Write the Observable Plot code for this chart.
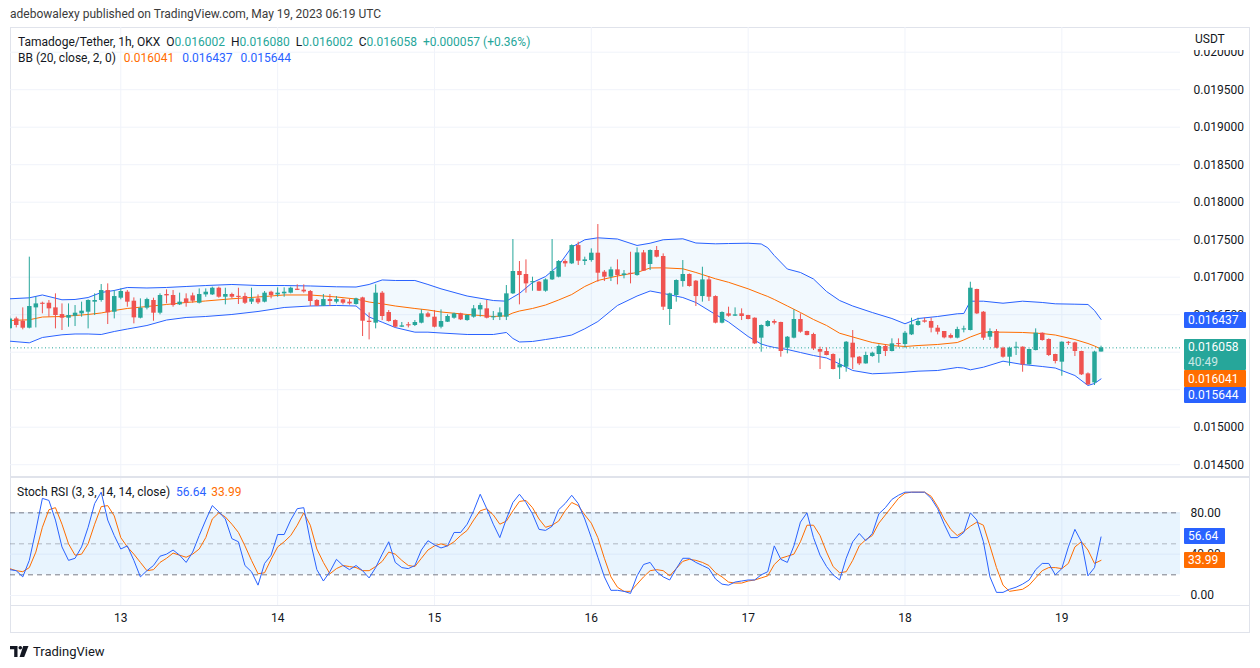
<!DOCTYPE html>
<html>
<head>
<meta charset="utf-8">
<script src="https://cdn.jsdelivr.net/npm/d3@7"></script>
<script src="https://cdn.jsdelivr.net/npm/@observablehq/plot@0.6"></script>
<style>
  html, body { margin: 0; padding: 0; background: #ffffff; }
  body { width: 1260px; height: 668px; overflow: hidden; position: relative;
         font-family: Roboto, "Liberation Sans", sans-serif; color: #131722; }
  .abs { position: absolute; }
  .frame { left: 10px; top: 27px; width: 1238px; height: 604px; border: 1px solid #e0e3eb; }
  .sep { background: #e0e3eb; }
  .legend { display: flex; white-space: pre; font-size: 12px; line-height: 16px; }
  .box { color: #fff; font-size: 12px; line-height: 16px; padding-left: 4px; box-sizing: border-box; border-radius: 1px; }
</style>
</head>
<body>
<div id="header" class="abs" style="left:10px;top:7px;font-size:12px;color:#3b3b3b;white-space:pre"></div>
<div class="abs frame"></div>
<div id="main" class="abs" style="left:10px;top:27px"></div>
<div id="rsi" class="abs" style="left:10px;top:477px"></div>
<div class="abs sep" style="left:10px;top:476px;width:1240px;height:2px"></div>
<div class="abs sep" style="left:10px;top:605px;width:1240px;height:1px"></div>
<div id="usdt" class="abs" style="left:1181px;top:29px;width:68px;height:21px;background:#fff;font-size:12px;line-height:21px;padding-left:14px;box-sizing:border-box">USDT</div>
<div id="leg1" class="abs legend" style="left:18px;top:34px"></div>
<div id="leg2" class="abs legend" style="left:18px;top:50px"></div>
<div id="leg3" class="abs legend" style="left:17px;top:484px"></div>
<div id="boxes"></div>
<div class="abs" style="left:10px;top:644px;display:flex;align-items:center">
  <svg width="19" height="12" viewBox="0 0 19 12"><path d="M0 0H7.5V11H4.2V3.3H0Z" fill="#131722"/><circle cx="10.3" cy="1.8" r="1.8" fill="#131722"/><path d="M13.2 0H18.5L14.2 11H9.6Z" fill="#131722"/></svg>
  <span style="margin-left:4px;font-size:13px;color:#131722">TradingView</span>
</div>
<script>
// ---------- data ----------
const headerText = "adebowalexy published on TradingView.com, May 19, 2023 06:19 UTC";
const firstCandleUTC = Date.UTC(2023, 4, 12, 7); // 1h candles from May 12 07:00 UTC
const candleOpen = [0.016311,0.016444,0.016413,0.016320,0.016591,0.016653,0.016653,0.016591,0.016502,0.016453,
0.016480,0.016511,0.016533,0.016667,0.016689,0.016822,0.016533,0.016720,0.016800,0.016680,
0.016453,0.016587,0.016689,0.016520,0.016769,0.016756,0.016631,0.016711,0.016751,0.016653,
0.016764,0.016764,0.016853,0.016733,0.016769,0.016745,0.016742,0.016667,0.016711,0.016667,
0.016800,0.016764,0.016778,0.016787,0.016840,0.016827,0.016809,0.016689,0.016613,0.016702,
0.016667,0.016698,0.016667,0.016636,0.016724,0.016413,0.016387,0.016787,0.016529,0.016422,
0.016333,0.016366,0.016356,0.016387,0.016511,0.016467,0.016333,0.016400,0.016453,0.016511,
0.016422,0.016467,0.016564,0.016578,0.016458,0.016467,0.016467,0.016778,0.017076,0.017036,
0.016926,0.016933,0.016813,0.016964,0.017000,0.017209,0.017178,0.017422,0.017209,0.017222,
0.017320,0.017067,0.017000,0.017098,0.017022,0.017052,0.017022,0.017324,0.017169,0.017356,
0.017276,0.016569,0.016756,0.016942,0.017036,0.016947,0.016742,0.016964,0.016742,0.016387,
0.016511,0.016480,0.016511,0.016489,0.016453,0.016187,0.016342,0.016409,0.016396,0.016053,
0.016187,0.016436,0.016276,0.016236,0.016036,0.016009,0.015969,0.015791,0.015800,0.016120,
0.015933,0.015844,0.015942,0.015969,0.016076,0.016009,0.016116,0.016102,0.016231,0.016356,
0.016418,0.016409,0.016320,0.016276,0.016222,0.016187,0.016296,0.016289,0.016836,0.016533,
0.016200,0.016276,0.016053,0.015933,0.016053,0.016067,0.015831,0.016022,0.016253,0.016169,
0.015969,0.015867,0.016131,0.016124,0.016009,0.015711,0.015591,0.016002];
const candleHigh = [0.016467,0.016467,0.016591,0.017267,0.016733,0.016667,0.016689,0.016778,0.016644,0.016644,
0.016622,0.016667,0.016698,0.016778,0.016902,0.016911,0.016822,0.016844,0.016822,0.016724,
0.016711,0.016720,0.016720,0.016778,0.016831,0.016822,0.016787,0.016778,0.016787,0.016844,
0.016844,0.016867,0.016867,0.016853,0.016787,0.016853,0.016787,0.016853,0.016764,0.016809,
0.016813,0.016858,0.016858,0.016867,0.016898,0.016898,0.016822,0.016702,0.016769,0.016769,
0.016742,0.016707,0.016702,0.016720,0.016733,0.016524,0.016898,0.016809,0.016556,0.016431,
0.016396,0.016396,0.016422,0.016564,0.016533,0.016556,0.016564,0.016498,0.016520,0.016520,
0.016498,0.016622,0.016653,0.016689,0.016542,0.016591,0.016889,0.017502,0.017209,0.017231,
0.017000,0.016942,0.016978,0.017502,0.017222,0.017231,0.017431,0.017467,0.017267,0.017378,
0.017702,0.017089,0.017133,0.017231,0.017089,0.017333,0.017391,0.017356,0.017364,0.017409,
0.017311,0.016787,0.016964,0.017222,0.017044,0.016956,0.017133,0.017009,0.016751,0.016538,
0.016600,0.016591,0.016578,0.016493,0.016458,0.016364,0.016422,0.016431,0.016400,0.016209,
0.016564,0.016511,0.016280,0.016253,0.016067,0.016058,0.015978,0.015911,0.016142,0.016289,
0.015942,0.016000,0.016000,0.016098,0.016098,0.016178,0.016178,0.016276,0.016453,0.016453,
0.016453,0.016453,0.016356,0.016276,0.016244,0.016333,0.016347,0.016933,0.016840,0.016542,
0.016311,0.016302,0.016067,0.016067,0.016133,0.016071,0.016040,0.016311,0.016258,0.016178,
0.015973,0.016138,0.016142,0.016133,0.016013,0.015724,0.016013,0.016080];
const candleLow = [0.016302,0.016324,0.016298,0.016311,0.016324,0.016511,0.016467,0.016311,0.016289,0.016333,
0.016342,0.016467,0.016311,0.016489,0.016667,0.016369,0.016444,0.016698,0.016600,0.016378,
0.016444,0.016564,0.016413,0.016498,0.016644,0.016600,0.016622,0.016600,0.016653,0.016644,
0.016733,0.016756,0.016720,0.016631,0.016711,0.016636,0.016636,0.016636,0.016636,0.016658,
0.016711,0.016733,0.016733,0.016778,0.016822,0.016787,0.016609,0.016609,0.016609,0.016609,
0.016644,0.016631,0.016627,0.016627,0.016209,0.016164,0.016311,0.016422,0.016400,0.016324,
0.016329,0.016324,0.016342,0.016378,0.016458,0.016324,0.016311,0.016396,0.016440,0.016422,
0.016413,0.016453,0.016467,0.016444,0.016422,0.016422,0.016422,0.016769,0.016631,0.016787,
0.016813,0.016809,0.016800,0.016956,0.016991,0.017133,0.017169,0.017156,0.017156,0.017200,
0.016933,0.016942,0.016942,0.016898,0.016978,0.016911,0.017013,0.017076,0.017089,0.017258,
0.016556,0.016356,0.016667,0.016867,0.016867,0.016609,0.016667,0.016676,0.016378,0.016378,
0.016467,0.016476,0.016422,0.016431,0.016102,0.016000,0.016333,0.016364,0.015933,0.015978,
0.016178,0.016253,0.016218,0.016022,0.015769,0.015951,0.015764,0.015636,0.015733,0.015769,
0.015822,0.015840,0.015933,0.015853,0.015942,0.016004,0.016067,0.016053,0.016222,0.016347,
0.016387,0.016258,0.016231,0.016178,0.016178,0.016178,0.016258,0.016284,0.016502,0.016156,
0.016156,0.016044,0.015920,0.015813,0.015956,0.015733,0.015827,0.016018,0.016147,0.015942,
0.015844,0.015680,0.016089,0.015942,0.015689,0.015556,0.015556,0.016002];
const candleClose = [0.016444,0.016356,0.016320,0.016609,0.016644,0.016638,0.016578,0.016489,0.016453,0.016489,
0.016520,0.016547,0.016689,0.016689,0.016822,0.016524,0.016742,0.016809,0.016667,0.016458,
0.016587,0.016702,0.016520,0.016756,0.016751,0.016622,0.016667,0.016653,0.016680,0.016769,
0.016800,0.016853,0.016733,0.016769,0.016733,0.016730,0.016653,0.016711,0.016658,0.016787,
0.016756,0.016787,0.016800,0.016853,0.016824,0.016804,0.016676,0.016613,0.016702,0.016676,
0.016702,0.016653,0.016644,0.016711,0.016413,0.016396,0.016787,0.016476,0.016409,0.016333,
0.016351,0.016351,0.016396,0.016511,0.016467,0.016333,0.016409,0.016476,0.016511,0.016431,
0.016489,0.016578,0.016622,0.016453,0.016473,0.016524,0.016778,0.017076,0.017022,0.016911,
0.016941,0.016813,0.016964,0.017076,0.017209,0.017178,0.017422,0.017213,0.017231,0.017320,
0.017053,0.017000,0.017098,0.017022,0.017044,0.017037,0.017324,0.017080,0.017356,0.017267,
0.016600,0.016778,0.016956,0.017036,0.016876,0.016742,0.016964,0.016733,0.016387,0.016529,
0.016480,0.016498,0.016476,0.016436,0.016111,0.016356,0.016409,0.016387,0.016009,0.016200,
0.016436,0.016267,0.016222,0.016044,0.016000,0.015956,0.015769,0.015831,0.016133,0.015924,
0.015844,0.015956,0.015987,0.016076,0.016009,0.016111,0.016102,0.016253,0.016364,0.016409,
0.016400,0.016320,0.016267,0.016191,0.016187,0.016302,0.016311,0.016853,0.016511,0.016187,
0.016276,0.016053,0.015933,0.016053,0.016067,0.015831,0.016036,0.016253,0.016156,0.015956,
0.015876,0.016133,0.016118,0.016009,0.015698,0.015564,0.016002,0.016058];

// Bollinger Bands (20, close, 2) read at these candle offsets (hours after first candle)
const bbHour = [0,3,5,8,10,12,14,16,18,21,24,27,30,34,38,42,46,50,53,55,57,59,62,64,66,70,74,76,77,78,
80,82,84,86,88,90,93,96,98,100,103,105,108,110,113,115,116,117,119,121,123,125,127,129,132,135,137,139,142,145,
146,147,149,152,155,158,160,163,165,166,167];
const bbUpper = [0.016712,0.016725,0.016763,0.016699,0.016703,0.016729,0.016796,0.016823,0.016863,0.016856,
0.016863,0.016876,0.016889,0.016903,0.016889,0.016889,0.016883,0.016872,0.016869,0.016903,
0.016963,0.016956,0.016956,0.016903,0.016845,0.016749,0.016689,0.016680,0.016733,0.016783,
0.016929,0.017009,0.017156,0.017400,0.017499,0.017525,0.017509,0.017423,0.017453,0.017499,
0.017512,0.017456,0.017445,0.017449,0.017453,0.017443,0.017392,0.017289,0.017109,0.017063,
0.016976,0.016809,0.016689,0.016616,0.016529,0.016449,0.016379,0.016449,0.016476,0.016512,
0.016516,0.016680,0.016680,0.016653,0.016680,0.016663,0.016645,0.016640,0.016636,0.016556,0.016437];
const bbMiddle = [0.016423,0.016432,0.016469,0.016476,0.016489,0.016503,0.016523,0.016556,0.016583,0.016609,
0.016636,0.016663,0.016683,0.016712,0.016736,0.016763,0.016763,0.016736,0.016709,0.016669,
0.016645,0.016616,0.016583,0.016563,0.016536,0.016503,0.016476,0.016485,0.016523,0.016549,
0.016583,0.016629,0.016696,0.016769,0.016876,0.016956,0.017016,0.017063,0.017123,0.017125,
0.017112,0.017063,0.016979,0.016932,0.016845,0.016776,0.016743,0.016703,0.016616,0.016529,
0.016436,0.016356,0.016253,0.016203,0.016129,0.016089,0.016076,0.016089,0.016103,0.016129,
0.016163,0.016203,0.016267,0.016267,0.016263,0.016249,0.016229,0.016169,0.016116,0.016083,0.016041];
const bbLower = [0.016147,0.016125,0.016196,0.016232,0.016243,0.016243,0.016236,0.016276,0.016309,0.016356,
0.016429,0.016463,0.016476,0.016503,0.016543,0.016596,0.016616,0.016623,0.016616,0.016469,
0.016400,0.016329,0.016267,0.016267,0.016256,0.016236,0.016236,0.016263,0.016183,0.016136,
0.016143,0.016169,0.016196,0.016229,0.016312,0.016409,0.016623,0.016749,0.016816,0.016783,
0.016729,0.016663,0.016503,0.016403,0.016209,0.016109,0.016083,0.016063,0.016036,0.015996,
0.015956,0.015923,0.015843,0.015756,0.015712,0.015723,0.015733,0.015747,0.015756,0.015796,
0.015789,0.015765,0.015800,0.015880,0.015836,0.015809,0.015789,0.015689,0.015556,0.015583,0.015644];

// Stoch RSI (3, 3, 14, 14, close), one value per candle
const stochK = [25,24,18,34,63,94,92,73,47,34, 36,47,66,89,100,73,58,45,48,34,
18,24,29,38,40,44,39,32,42,58, 73,87,81,74,55,52,29,23,10,31,
39,59,59,73,84,85,53,25,14,23, 35,29,25,29,24,17,27,40,52,32,
27,26,29,44,53,49,46,48,61,61, 69,82,98,84,69,56,74,90,98,90,
79,64,63,67,83,89,97,89,74,56, 37,18,5,5,4,2,19,30,32,23,
18,15,26,36,36,32,29,26,16,11, 10,13,14,15,15,20,23,48,35,32,
48,71,80,56,39,28,20,15,36,52, 60,53,60,79,85,93,97,100,100,100,
100,94,84,69,56,56,61,80,73,52, 18,3,3,6,8,11,15,25,31,31,
20,26,47,64,52,19,27,56.64];
const stochD = [26,24,23,27,42,66,83,85,69,50, 39,40,50,69,86,87,77,56,47,40,
32,24,25,32,36,41,39,37,40,45, 56,74,80,76,69,61,48,34,21,22,
35,47,52,58,68,80,68,45,32,21, 26,29,28,27,24,24,28,33,42,40,
34,29,28,36,44,48,50,48,52,58, 63,73,82,84,78,69,72,82,91,92,
85,74,66,68,72,82,90,87,78,70, 56,36,18,8,4,4,11,18,24,25,
24,19,26,33,35,34,32,29,22,18, 13,12,12,14,15,17,19,30,36,38,
40,52,68,68,58,42,28,22,23,34, 48,54,58,70,78,86,94,99,100,100,
100,96,86,74,64,58,62,67,71,68, 48,27,10,4,5,6,10,17,24,27,
27,26,31,47,52,44,31,33.99];

const priceTicks = [0.0145,0.015,0.0155,0.016,0.0165,0.017,0.0175,0.018,0.0185,0.019,0.0195,0.02];
const priceLabelsHidden = [0.0155, 0.016]; // fully covered by the value tags in the reference
const rsiGridTicks = [0, 40, 80];
const rsiBandLevels = [20, 80];
const rsiMidLevel = [50];
const dayTicks = [13, 14, 15, 16, 17, 18, 19];

const legendMain = [["Tamadoge/Tether, 1h, OKX", "#131722", 0], ["O", "#131722", 6], ["0.016002", "#26a69a", 0],
  ["H", "#131722", 6], ["0.016080", "#26a69a", 0], ["L", "#131722", 6], ["0.016002", "#26a69a", 0],
  ["C", "#131722", 6], ["0.016058", "#26a69a", 0], ["+0.000057 (+0.36%)", "#26a69a", 6]];
const legendBB = [["BB (20, close, 2, 0)", "#131722", 0], ["0.016041", "#ff6d00", 8], ["0.016437", "#2962ff", 8], ["0.015644", "#2962ff", 8]];
const legendRSI = [["Stoch RSI (3, 3, 14, 14, close)", "#131722", 0], ["56.64", "#2962ff", 6], ["33.99", "#ff6d00", 5]];

// ---------- build ----------
const HOUR = 3600e3;
const tOf = i => new Date(firstCandleUTC + i * HOUR);
const candles = candleOpen.map((o, i) => ({t: tOf(i), o, h: candleHigh[i], l: candleLow[i], c: candleClose[i]}));
const up = candles.filter(d => d.c >= d.o), down = candles.filter(d => d.c < d.o);
const bb = bbHour.map((h, j) => ({t: tOf(h), upper: bbUpper[j], mid: bbMiddle[j], lower: bbLower[j]}));
const stoch = stochK.map((k, i) => ({t: tOf(i), k, d: stochD[i]}));
const dayDates = dayTicks.map(d => new Date(Date.UTC(2023, 4, d)));
const xDomain = [tOf(0.122), tOf(179.16)];
const GREEN = "#26a69a", RED = "#ef5350", BLUE = "#2962ff", ORANGE = "#ff6d00", GRID = "#f0f3fa";
const FONT = "Roboto, 'Liberation Sans', sans-serif";
const last = candles.length - 1;

document.getElementById("header").textContent = headerText;
function fillLegend(id, items) {
  const el = document.getElementById(id);
  for (const [txt, col, gap] of items) {
    const s = document.createElement("span");
    s.textContent = txt; s.style.color = col; s.style.marginLeft = gap + "px";
    el.appendChild(s);
  }
}
fillLegend("leg1", legendMain); fillLegend("leg2", legendBB); fillLegend("leg3", legendRSI);

const mainPlot = Plot.plot({
  width: 1240, height: 449,
  marginTop: 0, marginBottom: 0, marginLeft: 0, marginRight: 70,
  style: {fontFamily: FONT, fontSize: "12px", color: "#131722", background: "transparent", overflow: "visible"},
  x: {type: "utc", domain: xDomain, axis: null},
  y: {domain: [0.0143426, 0.0203293]},
  marks: [
    Plot.gridY(priceTicks, {stroke: GRID, strokeOpacity: 1}),
    Plot.gridX(dayDates, {stroke: GRID, strokeOpacity: 1}),
    Plot.areaY(bb, {x: "t", y1: "lower", y2: "upper", fill: "#2196f3", fillOpacity: 0.06, clip: true}),
    Plot.line(bb, {x: "t", y: "upper", stroke: BLUE, strokeWidth: 1, clip: true}),
    Plot.line(bb, {x: "t", y: "lower", stroke: BLUE, strokeWidth: 1, clip: true}),
    Plot.line(bb, {x: "t", y: "mid", stroke: ORANGE, strokeWidth: 1, clip: true}),
    Plot.ruleY([candleClose[last]], {stroke: GREEN, strokeWidth: 1, strokeDasharray: "1,2.5"}),
    Plot.ruleX(up, {x: "t", y1: "l", y2: "h", stroke: GREEN, strokeWidth: 1, clip: true}),
    Plot.ruleX(down, {x: "t", y1: "l", y2: "h", stroke: RED, strokeWidth: 1, clip: true}),
    Plot.ruleX(up, {x: "t", y1: "o", y2: "c", stroke: GREEN, strokeWidth: 4.5, clip: true}),
    Plot.ruleX(down, {x: "t", y1: "o", y2: "c", stroke: RED, strokeWidth: 4.5, clip: true}),
    Plot.axisY(priceTicks.filter(v => !priceLabelsHidden.includes(v)),
      {anchor: "right", tickSize: 0, tickPadding: 13, tickFormat: d => d.toFixed(6), label: null, fill: "#131722"})
  ]
});
document.getElementById("main").appendChild(mainPlot);

const rsiPlot = Plot.plot({
  width: 1240, height: 155,
  marginTop: 0, marginBottom: 27, marginLeft: 0, marginRight: 70,
  style: {fontFamily: FONT, fontSize: "12px", color: "#131722", background: "transparent", overflow: "visible"},
  x: {type: "utc", domain: xDomain},
  y: {domain: [-9.7, 114.2]},
  marks: [
    Plot.gridY(rsiGridTicks, {stroke: GRID, strokeOpacity: 1}),
    Plot.gridX(dayDates, {stroke: GRID, strokeOpacity: 1}),
    Plot.rect([{y1: rsiBandLevels[0], y2: rsiBandLevels[1]}], {x1: xDomain[0], x2: xDomain[1], y1: "y1", y2: "y2", fill: "#2196f3", fillOpacity: 0.1}),
    Plot.ruleY(rsiBandLevels, {stroke: "#787b86", strokeDasharray: "5,4", strokeWidth: 1}),
    Plot.ruleY(rsiMidLevel, {stroke: "#787b86", strokeOpacity: 0.5, strokeDasharray: "5,4", strokeWidth: 1}),
    Plot.line(stoch, {x: "t", y: "d", stroke: ORANGE, strokeWidth: 1, clip: true}),
    Plot.line(stoch, {x: "t", y: "k", stroke: BLUE, strokeWidth: 1, clip: true}),
    Plot.axisY(rsiGridTicks, {anchor: "right", tickSize: 0, tickPadding: 10, tickFormat: d => d.toFixed(2), label: null, fill: "#131722"}),
    Plot.axisX(dayDates, {anchor: "bottom", tickSize: 0, tickPadding: 8, tickFormat: d3.utcFormat("%-d"), label: null, fill: "#131722"})
  ]
});
document.getElementById("rsi").appendChild(rsiPlot);

// price / indicator value tags on the right scale
const tags = [
  {txt: bbUpper[bbUpper.length - 1].toFixed(6), bg: BLUE, top: 312, h: 16, w: 62},
  {txt: candleClose[last].toFixed(6), sub: "40:49", bg: GREEN, top: 339, h: 31, w: 62},
  {txt: bbMiddle[bbMiddle.length - 1].toFixed(6), bg: ORANGE, top: 370, h: 17, w: 62},
  {txt: bbLower[bbLower.length - 1].toFixed(6), bg: BLUE, top: 387, h: 16, w: 62},
  {txt: stochK[last].toFixed(2), bg: BLUE, top: 528, h: 16, w: 41},
  {txt: stochD[last].toFixed(2), bg: ORANGE, top: 552, h: 16, w: 41}
];
const boxes = document.getElementById("boxes");
for (const t of tags) {
  const b = document.createElement("div");
  b.className = "abs box";
  Object.assign(b.style, {left: "1184px", top: t.top + "px", width: t.w + "px", height: t.h + "px", background: t.bg,
    paddingTop: t.sub ? "0px" : (t.h > 16 ? "1px" : "0px")});
  b.innerHTML = t.txt + (t.sub ? `<div style="opacity:0.75;line-height:14px">${t.sub}</div>` : "");
  boxes.appendChild(b);
}
</script>
</body>
</html>
